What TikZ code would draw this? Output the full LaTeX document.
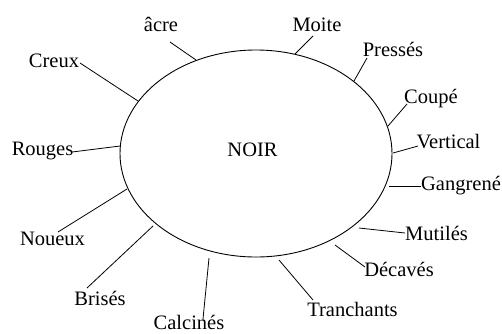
\documentclass[tikz,border=0pt]{standalone}
\usepackage{fontspec}
\setmainfont{Liberation Serif}
\begin{document}
\begin{tikzpicture}[x=1pt,y=-1pt,
  lab/.style={anchor=base,inner sep=0pt,font=\fontsize{20.5}{24}\selectfont},
  spoke/.style={line width=0.8pt,black}]
\useasboundingbox (0,0) rectangle (502,333);
\draw[line width=0.9pt] (256,153.5) ellipse [x radius=136, y radius=103.5];
\node[lab] (noir) at (252.5,156.7) {NOIR};
\node[lab] (acre) at (161,31) {âcre};
\node[lab] (creux) at (54,67) {Creux};
\node[lab] (rouges) at (42.5,155) {Rouges};
\node[lab] (moite) at (317,31.7) {Moite};
\node[lab] (presses) at (393,56.7) {Pressés};
\node[lab] (coupe) at (431,103) {Coupé};
\node[lab] (vertical) at (448.5,148) {Vertical};
\node[lab] (gangrene) at (461,190) {Gangrené};
\node[lab] (mutiles) at (436.5,240) {Mutilés};
\node[lab] (decaves) at (399,276.7) {Décavés};
\node[lab] (tranchants) at (352.5,316.7) {Tranchants};
\node[lab] (noueux) at (52.5,245) {Noueux};
\node[lab] (brises) at (100,305) {Brisés};
\node[lab] (calcines) at (189,329.5) {Calcinés};
% spoke ends
\coordinate (a1) at (170,42);  \coordinate (a2) at (196,60);
\coordinate (c1) at (80,63);   \coordinate (c2) at (138,101);
\coordinate (r1) at (72,152);  \coordinate (r2) at (120,146);
\coordinate (m1) at (313,36);  \coordinate (m2) at (295,54);
\coordinate (p1) at (367,58);  \coordinate (p2) at (354,81);
\coordinate (cp1) at (407,104); \coordinate (cp2) at (388,126);
\coordinate (v1) at (418,146); \coordinate (v2) at (393,153);
\coordinate (g1) at (421,186); \coordinate (g2) at (389,186);
\coordinate (mu1) at (405,233); \coordinate (mu2) at (359,228);
\coordinate (d1) at (365,267); \coordinate (d2) at (335,245);
\coordinate (t1) at (313,300); \coordinate (t2) at (279,260);
\coordinate (n1) at (58,232);  \coordinate (n2) at (127,189);
\coordinate (b1) at (87,288);  \coordinate (b2) at (153,226);
\coordinate (k1) at (203,319); \coordinate (k2) at (209,258);
\foreach \s/\e in {a1/a2,c1/c2,r1/r2,m1/m2,p1/p2,cp1/cp2,v1/v2,g1/g2,mu1/mu2,d1/d2,t1/t2,n1/n2,b1/b2,k1/k2}
  \draw[spoke] (\s) -- (\e);
\end{tikzpicture}
\end{document}
